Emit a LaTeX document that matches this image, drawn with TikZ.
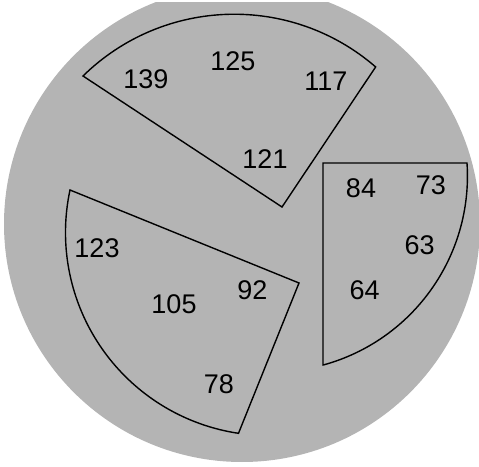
\documentclass[tikz,border=0pt]{standalone}
\usepackage{fontspec}
\setmainfont{Liberation Sans}
\definecolor{piegray}{RGB}{180,180,180}
\begin{document}
\begin{tikzpicture}[x=1pt,y=1pt,
  sector/.style={draw=black, line width=1.4pt, line join=miter},
  val/.style={inner sep=0pt, anchor=center, font=\fontsize{27}{27}\selectfont}]
\useasboundingbox (0,0) rectangle (479,466);
\begin{scope}
  \clip (0,0) rectangle (479,463);
  \fill[piegray] (242,242) circle[radius=238];
\end{scope}
% top sector
\coordinate (aV) at (282,259);
\coordinate (aL) at (83,390);
\draw[sector] (aV) -- (aL) arc[start angle=134.44, end angle=49.1, radius=216] -- cycle;
% right sector
\coordinate (bTL) at (323,303);
\coordinate (bTR) at (467,303);
\coordinate (bBL) at (323,101);
\draw[sector] (bBL) -- (bTL) -- (bTR) arc[start angle=3.8, end angle=-74.6, radius=196] -- cycle;
% left sector
\coordinate (cV) at (299,183);
\coordinate (cT) at (70,276);
\draw[sector] (cV) -- (cT) arc[start angle=167.9, end angle=261.5, radius=203] -- cycle;
% labels
\node[val] (n139) at (145.8,386.8) {139};
\node[val] (n125) at (232.8,404.7) {125};
\node[val] (n117) at (325.8,384.3) {117};
\node[val] (n121) at (265,307.3) {121};
\node[val] (n84) at (361,278) {84};
\node[val] (n73) at (430.8,280.7) {73};
\node[val] (n63) at (419.7,221) {63};
\node[val] (n64) at (364.7,176) {64};
\node[val] (n123) at (97,218) {123};
\node[val] (n92) at (252.5,176) {92};
\node[val] (n105) at (174,162) {105};
\node[val] (n78) at (219,82) {78};
\end{tikzpicture}
\end{document}
